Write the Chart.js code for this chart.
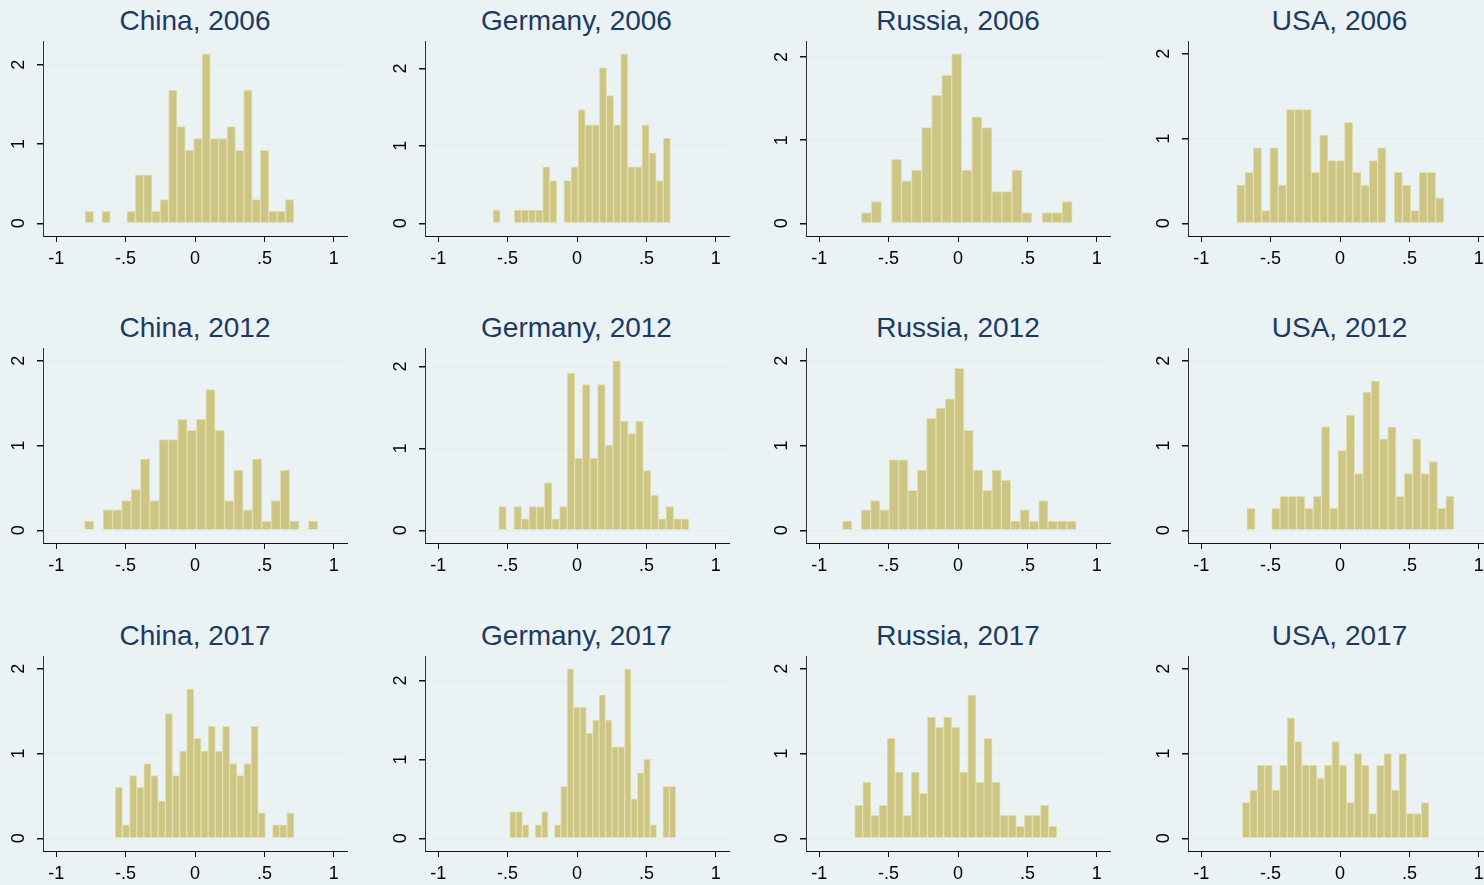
<!DOCTYPE html>
<html>
<head>
<meta charset="utf-8">
<script src="https://cdn.jsdelivr.net/npm/chart.js@4/dist/chart.umd.min.js"></script>
<style>
  html, body { margin: 0; padding: 0; }
  body { width: 1484px; height: 885px; overflow: hidden; background: #eaf2f3; position: relative;
         font-family: "Liberation Sans", Arial, sans-serif; }
  .title { position: absolute; text-align: center; font-size: 28px; line-height: 30px; color: #1c3a64; white-space: nowrap; }
  canvas { position: absolute; }
</style>
</head>
<body>
<script>
// panel titles, row by row
const titles = ['China, 2006', 'Germany, 2006', 'Russia, 2006', 'USA, 2006',
                'China, 2012', 'Germany, 2012', 'Russia, 2012', 'USA, 2012',
                'China, 2017', 'Germany, 2017', 'Russia, 2017', 'USA, 2017'];

// left edge of first bin and bin width for each panel
const binStart = [-0.791, -0.605, -0.696, -0.744,
                  -0.796, -0.564, -0.832, -0.671,
                  -0.5745, -0.485, -0.744, -0.703];
const binWidth = [0.0601, 0.0511, 0.0723, 0.0597,
                  0.0672, 0.0548, 0.0673, 0.0597,
                  0.0515, 0.046, 0.0582, 0.0537];

// densities
const china2006 = [0.15, 0, 0.15, 0, 0, 0.15, 0.61, 0.61, 0.15, 0.30, 1.68, 1.22, 0.92, 1.07, 2.14, 1.07, 1.07, 1.22, 0.92, 1.68, 0.30, 0.92, 0.15, 0.15, 0.30];
const germany2006 = [0.17, 0, 0, 0.17, 0.17, 0.17, 0.17, 0.73, 0.55, 0, 0.55, 0.73, 1.47, 1.27, 1.27, 2.01, 1.65, 1.27, 2.19, 0.73, 0.73, 1.27, 0.91, 0.55, 1.10];
const russia2006 = [0.13, 0.26, 0, 0.77, 0.51, 0.64, 1.15, 1.54, 1.78, 2.04, 0.64, 1.28, 1.15, 0.38, 0.38, 0.64, 0.13, 0, 0.13, 0.13, 0.26];
const usa2006 = [0.45, 0.60, 0.89, 0.15, 0.89, 0.45, 1.34, 1.34, 1.34, 0.60, 1.04, 0.74, 0.74, 1.19, 0.60, 0.45, 0.74, 0.89, 0, 0.60, 0.45, 0.15, 0.60, 0.60, 0.30];
const china2012 = [0.11, 0, 0.24, 0.24, 0.35, 0.48, 0.84, 0.35, 1.07, 1.07, 1.31, 1.18, 1.31, 1.66, 1.18, 0.35, 0.71, 0.24, 0.84, 0.11, 0.35, 0.71, 0.11, 0, 0.11];
const germany2012 = [0.29, 0, 0.29, 0.14, 0.29, 0.29, 0.58, 0.14, 0.29, 1.92, 0.88, 1.78, 0.88, 1.78, 1.04, 2.07, 1.33, 1.18, 1.33, 0.73, 0.43, 0.14, 0.29, 0.14, 0.14];
const russia2012 = [0.11, 0, 0.24, 0.35, 0.24, 0.83, 0.83, 0.47, 0.71, 1.32, 1.44, 1.55, 1.91, 1.18, 0.71, 0.47, 0.71, 0.59, 0.11, 0.24, 0.11, 0.35, 0.11, 0.11, 0.11];
const usa2012 = [0.26, 0, 0, 0.26, 0.40, 0.40, 0.40, 0.26, 0.40, 1.22, 0.26, 0.94, 1.36, 0.67, 1.63, 1.76, 1.08, 1.22, 0.40, 0.67, 1.08, 0.67, 0.81, 0.26, 0.40];
const china2017 = [0.60, 0.16, 0.74, 0.60, 0.88, 0.74, 0.44, 1.47, 0.74, 1.03, 1.76, 1.18, 1.03, 1.32, 1.03, 1.32, 0.88, 0.74, 0.88, 1.32, 0.30, 0, 0.16, 0.16, 0.30];
const germany2017 = [0.34, 0.34, 0.17, 0, 0.17, 0.34, 0, 0.17, 0.66, 2.15, 1.66, 1.66, 1.33, 1.50, 1.82, 1.50, 1.16, 1.16, 2.15, 0.50, 0.83, 1.00, 0.17, 0, 0.66, 0.66];
const russia2017 = [0.39, 0.66, 0.27, 0.39, 1.18, 0.78, 0.27, 0.78, 0.53, 1.43, 1.31, 1.43, 1.31, 0.78, 1.69, 0.66, 1.18, 0.66, 0.27, 0.27, 0.14, 0.27, 0.27, 0.39, 0.14];
const usa2017 = [0.42, 0.57, 0.86, 0.86, 0.57, 0.86, 1.42, 1.14, 0.86, 0.86, 0.71, 0.86, 1.14, 0.86, 0.42, 1.00, 0.86, 0.29, 0.86, 1.00, 0.57, 1.00, 0.29, 0.29, 0.42];

const densities = [china2006, germany2006, russia2006, usa2006,
                   china2012, germany2012, russia2012, usa2012,
                   china2017, germany2017, russia2017, usa2017];

const xTicks = [-1, -0.5, 0, 0.5, 1];
const yTicks = [0, 1, 2];

Chart.defaults.font.family = '"Liberation Sans", Arial, sans-serif';
Chart.defaults.font.size = 18;
Chart.defaults.color = '#000';

// y labels are drawn turned, like Stata does
const yLabels = {
  id: 'yLabels',
  afterDraw(chart) {
    const { ctx, chartArea, scales: { y } } = chart;
    ctx.save();
    ctx.font = '18px "Liberation Sans", Arial, sans-serif';
    ctx.fillStyle = '#000';
    ctx.textAlign = 'center';
    ctx.textBaseline = 'middle';
    y.ticks.forEach(t => {
      ctx.save();
      ctx.translate(chartArea.left - 24, y.getPixelForValue(t.value));
      ctx.rotate(-Math.PI / 2);
      ctx.fillText(String(t.value), 0, 0);
      ctx.restore();
    });
    ctx.restore();
  }
};

const fmt = v => v === 0 ? '0' : String(v).replace('0.', '.');

titles.forEach((title, i) => {
  const r = Math.floor(i / 4), c = i % 4;
  const plotLeft = 43 + 381.5 * c, plotTop = 40.5 + 307.5 * r;
  const plotW = 304, plotH = 195, yW = 40, xH = 42;

  const t = document.createElement('div');
  t.className = 'title';
  t.textContent = title;
  t.style.left = plotLeft + 'px';
  t.style.width = plotW + 'px';
  t.style.top = (plotTop - 35) + 'px';
  document.body.appendChild(t);

  const cv = document.createElement('canvas');
  cv.width = yW + plotW + 4;
  cv.height = plotH + xH;
  cv.style.left = (plotLeft - yW) + 'px';
  cv.style.top = plotTop + 'px';
  document.body.appendChild(cv);

  const vals = densities[i];
  const pts = vals.map((d, k) => ({ x: binStart[i] + (k + 0.5) * binWidth[i], y: d }));
  const top = Math.max(2, ...vals);

  new Chart(cv, {
    type: 'bar',
    data: {
      datasets: [{
        data: pts,
        backgroundColor: '#cdc584',
        borderColor: '#e4deab',
        borderWidth: 1,
        barPercentage: 1,
        categoryPercentage: 1
      }]
    },
    options: {
      responsive: false,
      animation: false,
      devicePixelRatio: 1,
      layout: { padding: { left: 0, right: 4, top: 0, bottom: 0 } },
      plugins: { legend: { display: false }, tooltip: { enabled: false } },
      scales: {
        x: {
          type: 'linear',
          min: -1.095, max: 1.095,
          offset: false,
          afterBuildTicks: s => { s.ticks = xTicks.map(v => ({ value: v })); },
          afterFit: s => { s.height = xH; },
          ticks: { callback: fmt, padding: 6, maxRotation: 0, autoSkip: false },
          grid: { offset: false, drawOnChartArea: false, drawTicks: true, tickLength: 6, tickColor: '#111' },
          border: { display: true, color: '#111', width: 1 }
        },
        y: {
          min: -0.075 * top, max: 1.075 * top,
          afterBuildTicks: s => { s.ticks = yTicks.map(v => ({ value: v })); },
          afterFit: s => { s.width = yW; },
          ticks: { display: false },
          grid: { color: '#e6eef0', lineWidth: 1.5, drawTicks: true, tickLength: 6, tickColor: '#111' },
          border: { display: true, color: '#333', width: 1 }
        }
      }
    },
    plugins: [yLabels]
  });
});
</script>
</body>
</html>
